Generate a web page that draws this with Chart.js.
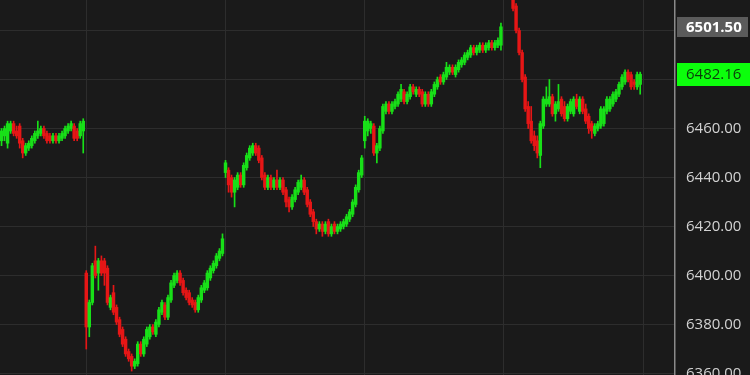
<!DOCTYPE html>
<html><head><meta charset="utf-8">
<script src="https://cdn.jsdelivr.net/npm/chart.js@4.4.1/dist/chart.umd.min.js"></script>
<style>html,body{margin:0;padding:0;background:#1a1a1a;overflow:hidden}#c{display:block}</style>
</head><body>
<canvas id="c" width="750" height="375"></canvas>
<script>
// ---- data (30-min candles, 46 per session) ----
const opens = [
6455,6457,6454,6459,6462,6459,6461,6455,6450,6452,6453,6455,6457,6458,6460,6458,6457,6455,6457,6455,6456,6457,6459,6460,6461,6459,6457,6459,
6401,6379,6389,6406,6401,6406,6406,6403,6387,6393,6387,6382,6378,6374,6369,6367,6363,6364,6372,6368,6372,6375,6379,6376,6380,6385,6388,6383,6390,6396,6398,6401,6398,6394,6393,6390,6389,6386,6390,6394,6395,6399,6402,6404,6407,6409,
6442,6443,6440,6434,6436,6441,6437,6444,6448,6450,6453,6452,6448,6441,6436,6440,6436,6439,6436,6439,6435,6431,6428,6431,6434,6436,6439,6435,6430,6426,6422,6419,6421,6418,6422,6417,6421,6418,6419,6420,6421,6423,6425,6429,6435,6441,
6455,6459,6460,6461,6450,6452,6459,6467,6470,6467,6469,6470,6472,6475,6471,6473,6477,6474,6476,6475,6470,6474,6470,6474,6477,6481,6479,6481,6483,6485,6482,6484,6486,6487,6489,6490,6493,6491,6492,6494,6492,6493,6495,6493,6494,6494,
null,null,null,6516,6510,6500,6491,6481,6469,6463,6457,6455,6449,6461,6470,6470,6473,6466,6468,6472,6469,6464,6467,6466,6472,6467,6472,6468,6465,6462,6458,6460,6461,6462,6467,6468,6470,6472,6474,6477,6479,6483,6482,6479,6477,6478
];
const highs = [
6460,6461,6463,6463,6463,6461,6462,6456,6454,6455,6457,6459,6463,6461,6461,6459,6458,6458,6458,6458,6459,6461,6462,6463,6462,6460,6463,6464,
6402,6390,6405,6412,6407,6408,6407,6404,6392,6396,6388,6383,6379,6375,6370,6368,6366,6373,6373,6375,6379,6380,6380,6382,6387,6390,6389,6392,6398,6401,6402,6402,6399,6395,6394,6391,6390,6392,6396,6398,6402,6404,6406,6409,6411,6417,
6447,6444,6441,6440,6442,6442,6446,6450,6453,6454,6454,6453,6449,6442,6441,6441,6440,6443,6440,6440,6436,6432,6433,6436,6439,6441,6440,6436,6431,6427,6423,6422,6422,6422,6423,6421,6422,6421,6422,6423,6425,6427,6431,6437,6443,6449,
6465,6464,6463,6462,6454,6461,6470,6471,6471,6471,6472,6475,6478,6476,6475,6478,6478,6477,6477,6476,6475,6475,6476,6479,6481,6482,6483,6487,6486,6486,6486,6488,6489,6491,6492,6494,6494,6494,6495,6495,6495,6496,6496,6496,6497,6503,
null,null,null,6517,6511,6501,6492,6482,6471,6469,6459,6457,6463,6473,6477,6480,6474,6471,6478,6473,6471,6470,6472,6473,6474,6473,6473,6470,6466,6463,6462,6463,6469,6469,6473,6473,6475,6476,6479,6482,6484,6484,6483,6480,6483,6483
];
const lows = [
6453,6455,6452,6458,6457,6456,6452,6448,6449,6451,6452,6454,6456,6457,6456,6454,6454,6454,6454,6454,6455,6456,6458,6459,6455,6455,6456,6450,
6370,6375,6388,6399,6394,6400,6396,6388,6386,6384,6380,6375,6371,6367,6365,6361,6362,6363,6367,6367,6371,6374,6376,6375,6379,6384,6382,6382,6389,6395,6397,6396,6392,6390,6388,6387,6385,6385,6389,6393,6394,6398,6401,6403,6406,6408,
6440,6434,6432,6428,6435,6436,6436,6443,6447,6449,6449,6446,6439,6435,6435,6435,6435,6435,6435,6433,6428,6426,6427,6430,6433,6435,6433,6428,6424,6420,6417,6418,6416,6417,6416,6416,6417,6417,6418,6419,6420,6422,6424,6428,6434,6440,
6452,6457,6458,6449,6446,6451,6458,6466,6466,6466,6468,6469,6471,6470,6470,6472,6474,6473,6473,6469,6469,6469,6469,6473,6476,6478,6478,6480,6482,6482,6481,6483,6485,6486,6488,6489,6490,6490,6491,6491,6491,6492,6492,6492,6493,6492,
null,null,null,6508,6499,6490,6479,6467,6460,6454,6451,6448,6444,6460,6469,6469,6465,6463,6467,6465,6463,6463,6466,6465,6468,6466,6466,6462,6458,6456,6457,6459,6460,6461,6466,6467,6469,6471,6473,6476,6478,6479,6476,6476,6476,6474
];
const closes = [
6459,6460,6462,6462,6458,6457,6454,6450,6453,6454,6456,6458,6459,6460,6457,6455,6455,6457,6455,6457,6458,6460,6461,6462,6456,6456,6462,6463,
6379,6389,6404,6400,6406,6401,6401,6389,6391,6385,6381,6376,6372,6368,6366,6363,6365,6372,6368,6374,6378,6379,6377,6381,6386,6389,6383,6391,6397,6400,6401,6397,6393,6391,6389,6388,6386,6391,6395,6397,6401,6403,6405,6408,6410,6415,
6446,6437,6434,6439,6441,6437,6445,6449,6452,6453,6450,6447,6440,6436,6440,6436,6439,6436,6439,6434,6430,6428,6432,6435,6438,6439,6434,6429,6425,6422,6419,6421,6418,6421,6417,6420,6418,6420,6421,6422,6424,6426,6430,6436,6442,6448,
6463,6463,6462,6450,6453,6460,6469,6470,6467,6470,6471,6474,6476,6471,6474,6477,6475,6476,6474,6470,6474,6470,6475,6478,6480,6479,6482,6485,6485,6483,6485,6487,6488,6490,6491,6493,6491,6493,6494,6492,6494,6495,6493,6495,6496,6501.5,
null,null,null,6509,6500,6491,6480,6468,6462,6455,6453,6450,6462,6472,6472,6473,6466,6470,6471,6466,6464,6469,6471,6472,6469,6472,6467,6463,6460,6459,6461,6462,6468,6468,6472,6472,6474,6475,6478,6481,6483,6480,6477,6478,6482,6482.16
];
const sessionStarts = [28, 74, 120, 166, 212];          // vertical grid lines (bar index)
const priceTicks = [6360, 6380, 6400, 6420, 6440, 6460, 6480, 6500];
const tagPrices = [6501.50, 6482.16];                   // reference price, last price
const totalSlots = 223;
const yMin = 6359.4, yMax = 6512.45;

// ---- styles ----
const UP = '#18e018', DOWN = '#e61616';
const tagStyles = [
  {bg:'#5b5b5b', fg:'#ffffff', font:'bold 15px "Open Sans"', h:20},
  {bg:'#0cff0c', fg:'#0b3d0b', font:'15px "Open Sans"', h:23}
];

const idx = [];
for (let i = 0; i < opens.length; i++) if (opens[i] !== null) idx.push(i);
const colors = idx.map(i => closes[i] >= opens[i] ? UP : DOWN);

const bgPlugin = {id:'bgp', beforeDraw(c){const x=c.ctx;x.save();x.fillStyle='#1a1a1a';x.fillRect(0,0,c.width,c.height);x.restore();}};
const tagPlugin = {id:'tags', afterDraw(c){
  const s = c.scales.y, ctx = c.ctx;
  ctx.save();
  tagPrices.forEach((p, k) => {
    const st = tagStyles[k], py = s.getPixelForValue(p);
    ctx.fillStyle = st.bg;
    ctx.fillRect(s.left + 2, Math.round(py - st.h/2), c.width - s.left - 2 - (k === 0 ? 2 : 0), st.h);
    ctx.fillStyle = st.fg; ctx.font = st.font; ctx.textBaseline = 'middle'; ctx.textAlign = 'left';
    ctx.fillText(p.toFixed(2), s.left + 11, py + 1);
  });
  ctx.restore();
}};

new Chart(document.getElementById('c'), {
  type: 'bar',
  data: {
    datasets: [
      {data: idx.map(i => ({x:i, y:[lows[i], highs[i]]})), backgroundColor: colors, barThickness: 1, grouped: false, clip: 0, order: 2},
      {data: idx.map(i => ({x:i, y:[opens[i], closes[i]]})), backgroundColor: colors, barThickness: 2.8, grouped: false, clip: 0, order: 1}
    ]
  },
  options: {
    responsive: false, animation: false, devicePixelRatio: 1,
    layout: {padding: 0},
    plugins: {legend:{display:false}, tooltip:{enabled:false}},
    scales: {
      x: {
        type: 'linear', min: -0.5, max: totalSlots - 0.5, offset: false,
        afterBuildTicks: s => { s.ticks = sessionStarts.map(v => ({value: v})); },
        afterFit: s => { s.height = 0; s.paddingLeft = 0; s.paddingRight = 0; s.paddingTop = 0; s.paddingBottom = 0; },
        ticks: {display: false},
        grid: {color: '#2d2d2d', lineWidth: 1, drawTicks: false, offset: false},
        border: {display: false}
      },
      y: {
        position: 'right', min: yMin, max: yMax,
        afterBuildTicks: s => { s.ticks = priceTicks.map(v => ({value: v})); },
        afterFit: s => { s.width = 75; s.paddingTop = 0; s.paddingBottom = 0; s.paddingLeft = 0; s.paddingRight = 0; },
        ticks: {color: '#d2d2d2', font: {family: '"Open Sans"', size: 15}, padding: 11, callback: v => Number(v).toFixed(2)},
        grid: {color: '#2d2d2d', lineWidth: 1, drawTicks: false},
        border: {display: true, color: '#8a8a8a', width: 1.5}
      }
    }
  },
  plugins: [bgPlugin, tagPlugin]
});
</script>
</body></html>
